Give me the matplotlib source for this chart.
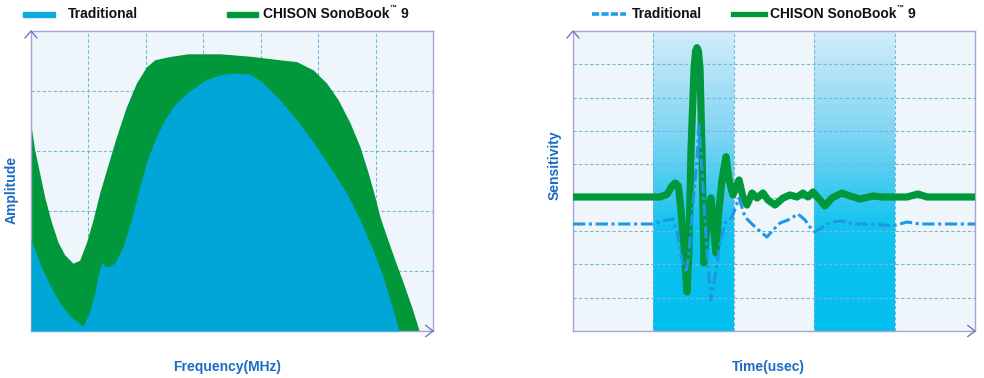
import matplotlib
matplotlib.use("Agg")
import matplotlib.pyplot as plt
from matplotlib.colors import LinearSegmentedColormap
from matplotlib.patches import Rectangle
from matplotlib.lines import Line2D
from matplotlib.text import Annotation
import numpy as np

plt.rcParams['font.family'] = ['Liberation Sans', 'DejaVu Sans']

# ---- left chart: amplitude vs frequency ----
freq_green = [0.0, 0.064, 0.151, 0.239, 0.353, 0.470, 0.587, 0.731, 0.848, 0.963,
              1.080, 1.196, 1.341, 1.485, 1.659, 1.834, 2.008, 2.154, 2.386, 2.734,
              3.291, 3.813, 4.336, 4.626, 4.916, 5.149, 5.351, 5.555, 5.729, 5.873,
              5.990, 6.077, 6.194, 6.338, 6.483, 6.629, 6.761]
amp_green = [3.43, 3.02, 2.63, 2.23, 1.82, 1.48, 1.27, 1.13, 1.18, 1.47,
             1.85, 2.30, 2.77, 3.23, 3.73, 4.13, 4.40, 4.52, 4.57, 4.62,
             4.62, 4.58, 4.52, 4.49, 4.35, 4.13, 3.85, 3.47, 3.07, 2.63,
             2.23, 1.90, 1.57, 1.18, 0.80, 0.40, 0.0]

freq_blue = [0.0, 0.179, 0.353, 0.528, 0.702, 0.905, 1.022, 1.109, 1.179, 1.236,
             1.27, 1.311, 1.38, 1.457, 1.602, 1.746, 1.893, 2.008, 2.154, 2.328,
             2.502, 2.734, 3.030, 3.291, 3.552, 3.813, 4.022, 4.336, 4.626, 4.916,
             5.206, 5.497, 5.729, 5.932, 6.107, 6.251, 6.396, 6.408]
amp_blue = [1.52, 1.07, 0.72, 0.43, 0.23, 0.08, 0.32, 0.63, 0.97, 1.15,
            1.09, 1.07, 1.09, 1.13, 1.40, 1.85, 2.40, 2.80, 3.18, 3.52,
            3.77, 3.98, 4.18, 4.27, 4.30, 4.28, 4.15, 3.85, 3.52, 3.15,
            2.73, 2.30, 1.85, 1.40, 0.97, 0.52, 0.05, 0.0]

# ---- right chart: sensitivity vs time ----
time_green = [0.0, 10.8, 11.7, 12.3, 12.7, 13.1, 13.4, 13.8, 14.18, 14.4, 14.68, 15.05,
              15.25, 15.42, 15.6, 15.80, 16.04, 16.29, 16.5, 16.79, 17.16, 17.41, 17.79,
              18.1, 18.53, 19.03, 19.40, 19.90, 20.65, 21.14, 21.64, 22.26, 22.89,
              23.63, 24.25, 25.12, 26.12, 26.99, 27.86, 28.61, 29.23, 29.85, 30.72,
              31.34, 32.21, 33.46, 34.45, 35.70, 37.31, 38.56, 41.54, 42.91, 44.03, 50.0]
sens_green = [4.02, 4.02, 4.10, 4.35, 4.44, 4.35, 3.70, 2.52, 1.17, 2.30, 5.44, 7.84,
              8.40, 8.50, 8.40, 7.84, 5.44, 2.04, 2.70, 3.63, 3.99, 3.33, 2.34,
              3.50, 4.53, 5.23, 4.53, 4.08, 4.53, 4.02, 3.78, 4.14, 3.99,
              4.14, 3.93, 3.78, 3.99, 4.08, 4.02, 4.14, 4.02, 4.17, 3.93,
              3.75, 3.99, 4.14, 4.05, 3.96, 4.05, 4.02, 4.02, 4.11, 4.02, 4.02]

time_blue = [0.0, 9.95, 11.19, 12.44, 12.94, 13.56, 14.05, 14.43, 14.93, 15.42, 15.67,
             16.17, 16.67, 17.16, 17.66, 18.28, 18.91, 19.78, 20.65, 21.39, 22.39,
             23.51, 24.13, 24.88, 25.75, 26.74, 27.99, 28.86, 29.48, 30.10, 31.09,
             32.21, 33.46, 34.83, 37.31, 39.80, 41.54, 43.16, 50.0]
sens_blue = [3.21, 3.21, 3.30, 3.36, 2.94, 2.13, 1.74, 2.34, 3.84, 5.14, 6.19,
             4.32, 2.34, 0.93, 1.62, 2.64, 3.24, 3.42, 3.99, 3.42, 3.18,
             2.94, 2.82, 3.03, 3.24, 3.33, 3.51, 3.33, 3.12, 2.97, 3.12,
             3.27, 3.30, 3.21, 3.21, 3.15, 3.27, 3.21, 3.21]

shade_cols = [(10, 20), (30, 40)]

GREEN = '#00983a'
BLUE_FILL = '#00a6d8'
BLUE_LINE = '#1f98e4'
LABEL = '#1a6cc4'
BG = '#eef6fc'
GRID = '#74b8d8'
SPINE = '#a4a4d6'
ARROW = '#6a6ab8'
INK = '#111111'

W, H = 984, 378
fig = plt.figure(figsize=(W / 100, H / 100), dpi=100)


def fx(x):
    return x / W


def fy(y):
    return 1 - y / H


def style_axes(ax, xt, yt):
    ax.set_facecolor(BG)
    ax.set_xticks(xt)
    ax.set_yticks(yt)
    ax.tick_params(length=0, labelbottom=False, labelleft=False)
    ax.grid(True, color=GRID, linestyle=(0, (3, 2)), linewidth=0.8)
    ax.set_axisbelow(True)
    for s in ax.spines.values():
        s.set_color(SPINE)
        s.set_linewidth(1.0)
    # little arrow heads on the axes
    dx, dy = 6 / 402, 7 / 300
    ax.add_line(Line2D([-dx, 0, dx], [1 - dy, 1, 1 - dy], transform=ax.transAxes,
                       color=ARROW, lw=0.9, clip_on=False, zorder=5))
    ax.add_line(Line2D([1 - dx * 1.2, 1, 1 - dx * 1.2], [dy * 0.8, 0, -dy * 0.8],
                       transform=ax.transAxes, color=ARROW, lw=0.9, clip_on=False, zorder=5))


# left chart
ax1 = fig.add_axes([fx(31), fy(331), fx(402), 300 / H])
ax1.set_xlim(0, 7)
ax1.set_ylim(0, 5)
style_axes(ax1, range(1, 7), range(1, 5))
ax1.fill_between(freq_green, amp_green, 0, color=GREEN, lw=0, zorder=2)
ax1.fill_between(freq_blue, amp_blue, 0, color=BLUE_FILL, lw=0, zorder=3)
fig.text(fx(12), fy(190), 'Amplitude', rotation=90, ha='center', va='center',
         color=LABEL, fontsize=10, fontweight='bold')
fig.text(fx(227), fy(367), 'Frequency(MHz)', ha='center', va='center',
         color=LABEL, fontsize=10, fontweight='bold')

# right chart
ax2 = fig.add_axes([fx(573), fy(331), fx(402), 300 / H])
style_axes(ax2, [10, 20, 30, 40], range(1, 9))
grad_cmap = LinearSegmentedColormap.from_list(
    'shade', [(0.0, '#00bff0'), (0.35, '#12c3f0'), (0.65, '#7dd4f3'), (1.0, '#d2edfa')])
grad = np.linspace(0, 1, 256).reshape(-1, 1)
for x0, x1 in shade_cols:
    ax2.imshow(grad, cmap=grad_cmap, origin='lower', aspect='auto',
               extent=[x0, x1, 0, 9], zorder=0.2)
ax2.set_xlim(0, 50)
ax2.set_ylim(0, 9)
ax2.plot(time_green, sens_green, color=GREEN, lw=5.2, solid_joinstyle='round',
         solid_capstyle='butt', zorder=3)
ax2.plot(time_blue, sens_blue, color=BLUE_LINE, lw=2.2,
         linestyle=(0, (4, 1.2, 1, 1.2)), dash_joinstyle='round', zorder=4)
fig.text(fx(555), fy(165), 'Sensitivity', rotation=90, ha='center', va='center',
         color=LABEL, fontsize=10, fontweight='bold')
fig.text(fx(768), fy(367), 'Time(usec)', ha='center', va='center',
         color=LABEL, fontsize=10, fontweight='bold')


# legends
def brand_label(x, y):
    t = fig.text(fx(x), fy(y), 'CHISON SonoBook', ha='left', va='center',
                 fontsize=10, fontweight='bold', color=INK)
    fig.add_artist(Annotation('\u2122', xy=(1, 1), xycoords=t,
                              xytext=(0.2, 1.5), textcoords='offset points',
                              ha='left', va='top', fontsize=5,
                              fontweight='bold', color=INK))
    fig.add_artist(Annotation('9', xy=(1, 0), xycoords=t,
                              xytext=(8, 0), textcoords='offset points',
                              ha='left', va='bottom', fontsize=10,
                              fontweight='bold', color=INK))


fig.add_artist(Rectangle((fx(23), fy(17)), fx(32), 5 / H, color='#10a8e0',
                         transform=fig.transFigure))
fig.text(fx(68), fy(14), 'Traditional', ha='left', va='center', fontsize=10,
         fontweight='bold', color=INK)
fig.add_artist(Rectangle((fx(227), fy(17)), fx(31), 5 / H, color=GREEN,
                         transform=fig.transFigure))
brand_label(263, 14)

fig.add_artist(Line2D([fx(592), fx(626)], [fy(14), fy(14)], transform=fig.transFigure,
                      color='#1fa0e8', lw=2.6, linestyle=(0, (2, 0.6))))
fig.text(fx(632), fy(14), 'Traditional', ha='left', va='center', fontsize=10,
         fontweight='bold', color=INK)
fig.add_artist(Line2D([fx(733), fx(765)], [fy(14), fy(14)], transform=fig.transFigure,
                      color=GREEN, lw=3.8))
brand_label(770, 14)

fig.savefig('out.png', dpi=100, facecolor='white')
